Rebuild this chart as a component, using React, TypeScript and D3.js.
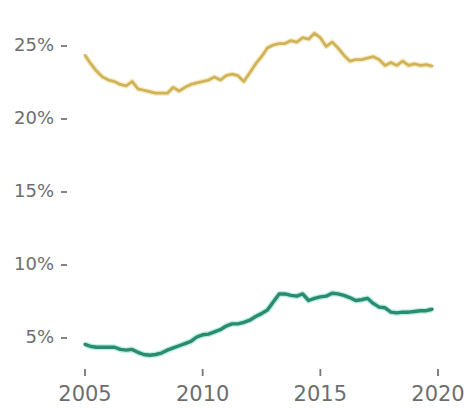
import React from "react";
import * as d3 from "d3";

const START_YEAR = 2005;
const QUARTERS = 60;
const quarterYears: number[] = Array.from({ length: QUARTERS }, (_, i) => START_YEAR + i / 4);

const goldSeries: number[] = [
  24.3, 23.7, 23.2, 22.8, 22.6, 22.5, 22.3, 22.2, 22.5, 22.0,
  21.9, 21.8, 21.7, 21.7, 21.7, 22.1, 21.85, 22.1, 22.3, 22.4,
  22.5, 22.6, 22.8, 22.6, 22.9, 23.0, 22.9, 22.5, 23.1, 23.7,
  24.2, 24.8, 25.0, 25.1, 25.1, 25.3, 25.2, 25.5, 25.4, 25.8,
  25.5, 24.9, 25.2, 24.8, 24.3, 23.9, 24.0, 24.0, 24.1, 24.2,
  24.0, 23.6, 23.8, 23.6, 23.9, 23.6, 23.7, 23.6, 23.65, 23.55,
];

const greenSeries: number[] = [
  4.5, 4.35, 4.3, 4.3, 4.3, 4.3, 4.15, 4.1, 4.15, 3.95,
  3.8, 3.75, 3.8, 3.9, 4.1, 4.25, 4.4, 4.55, 4.7, 5.0,
  5.15, 5.2, 5.35, 5.5, 5.75, 5.9, 5.9, 6.0, 6.15, 6.4,
  6.6, 6.85, 7.4, 7.95, 7.95, 7.85, 7.8, 7.95, 7.5, 7.65,
  7.75, 7.8, 8.0, 7.95, 7.85, 7.7, 7.5, 7.55, 7.65, 7.3,
  7.05, 7.0, 6.7, 6.65, 6.7, 6.7, 6.75, 6.8, 6.8, 6.9,
];

const xTicks: number[] = [2005, 2010, 2015, 2020];
const yTicks: number[] = [5, 10, 15, 20, 25];

const W = 467;
const H = 408;

export default function App() {
  const x = d3.scaleLinear().domain([2005, 2020]).range([85, 438]);
  const y = d3.scaleLinear().domain([0, 25]).range([410, 45]);

  const line = d3
    .line<number>()
    .x((_, i) => x(quarterYears[i]))
    .y((d) => y(d))
    .curve(d3.curveLinear);

  const font = "'DejaVu Sans', sans-serif";
  const textColor = "#6e6e6e";

  return (
    <svg
      width={W}
      height={H}
      style={{ position: "absolute", left: 0, top: 0, background: "#fff" }}
    >
      {/* y axis */}
      {yTicks.map((t) => (
        <g key={"y" + t}>
          <text
            x={54}
            y={y(t)}
            dy="0.36em"
            textAnchor="end"
            fontFamily={font}
            fontSize={18}
            fill={textColor}
          >
            {t}%
          </text>
          <line x1={61} x2={67} y1={y(t) + 1} y2={y(t) + 1} stroke="#777" strokeWidth={1.8} />
        </g>
      ))}
      {/* x axis */}
      {xTicks.map((t) => (
        <g key={"x" + t}>
          <line x1={x(t)} x2={x(t)} y1={369} y2={376} stroke="#777" strokeWidth={1.8} />
          <text
            x={x(t)}
            y={401}
            textAnchor="middle"
            fontFamily={font}
            fontSize={21}
            fill={textColor}
          >
            {t}
          </text>
        </g>
      ))}
      {/* lines */}
      <path d={line(goldSeries) || ""} fill="none" stroke="#f2e4ad" strokeWidth={5.5} strokeLinejoin="round" opacity={0.7} />
      <path d={line(goldSeries) || ""} fill="none" stroke="#cfb25a" strokeWidth={2.8} strokeLinejoin="round" strokeLinecap="round" />
      <path d={line(greenSeries) || ""} fill="none" stroke="#9de9d4" strokeWidth={6} strokeLinejoin="round" opacity={0.7} />
      <path d={line(greenSeries) || ""} fill="none" stroke="#2c8a70" strokeWidth={3.4} strokeLinejoin="round" strokeLinecap="round" />
    </svg>
  );
}
